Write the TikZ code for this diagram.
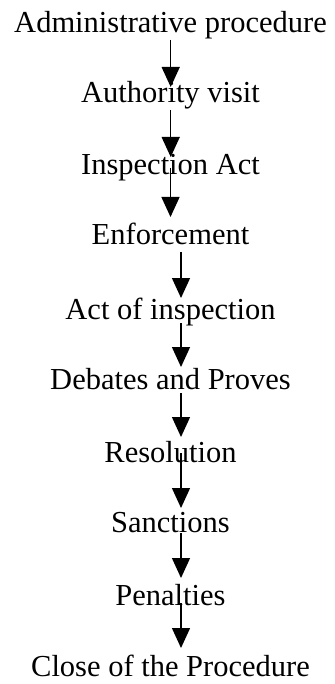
\documentclass[tikz,border=0pt]{standalone}
\usepackage{fontspec}
\setmainfont{Liberation Serif}
\usetikzlibrary{arrows.meta}

\tikzset{
    step label/.style={anchor=base, inner sep=0pt, font=\fontsize{30.5}{36}\selectfont},
    flow/.style={line width=1.4pt, -{Triangle[length=20pt,width=18pt]}}
}

\begin{document}
\begin{tikzpicture}[x=1pt,y=-1pt]
            \useasboundingbox (0,0) rectangle (334,684);

            \node[step label] (admin) at (170.5,33) {Administrative procedure};
            \node[step label] (visit) at (170.5,103) {Authority visit};
            \node[step label] (inspact) at (170.5,175) {Inspection Act};
            \node[step label] (enforce) at (170.5,244) {Enforcement};
            \node[step label] (actinsp) at (170.5,319) {Act of inspection};
            \node[step label] (debates) at (170.5,389) {Debates and Proves};
            \node[step label] (resol) at (170.5,462) {Resolution};
            \node[step label] (sanct) at (170.5,532) {Sanctions};
            \node[step label] (penal) at (170.5,605) {Penalties};
            \node[step label] (close) at (170.5,676) {Close of the Procedure};

            \draw[flow] ([xshift=0.2pt,yshift=-7pt]admin.base) -- ([xshift=0.2pt,yshift=16pt]visit.base);
            \draw[flow] ([xshift=0.2pt,yshift=-7pt]visit.base) -- ([xshift=0.2pt,yshift=18pt]inspact.base);
            \draw[flow] ([yshift=7pt]inspact.base) -- ([yshift=27pt]enforce.base);
            \draw[flow] ([xshift=10.5pt,yshift=-8pt]enforce.base) -- ([xshift=10.5pt,yshift=21pt]actinsp.base);
            \draw[flow] ([xshift=10.5pt,yshift=-4pt]actinsp.base) -- ([xshift=10.5pt,yshift=22pt]debates.base);
            \draw[flow] ([xshift=10.5pt,yshift=-4pt]debates.base) -- ([xshift=10.5pt,yshift=25pt]resol.base);
            \draw[flow] ([xshift=10.5pt,yshift=9pt]resol.base) -- ([xshift=10.5pt,yshift=24pt]sanct.base);
            \draw[flow] ([xshift=10.5pt,yshift=-1pt]sanct.base) -- ([xshift=10.5pt,yshift=27pt]penal.base);
            \draw[flow] ([xshift=10.5pt,yshift=2pt]penal.base) -- ([xshift=10.5pt,yshift=28pt]close.base);
        \end{tikzpicture}
\end{document}
